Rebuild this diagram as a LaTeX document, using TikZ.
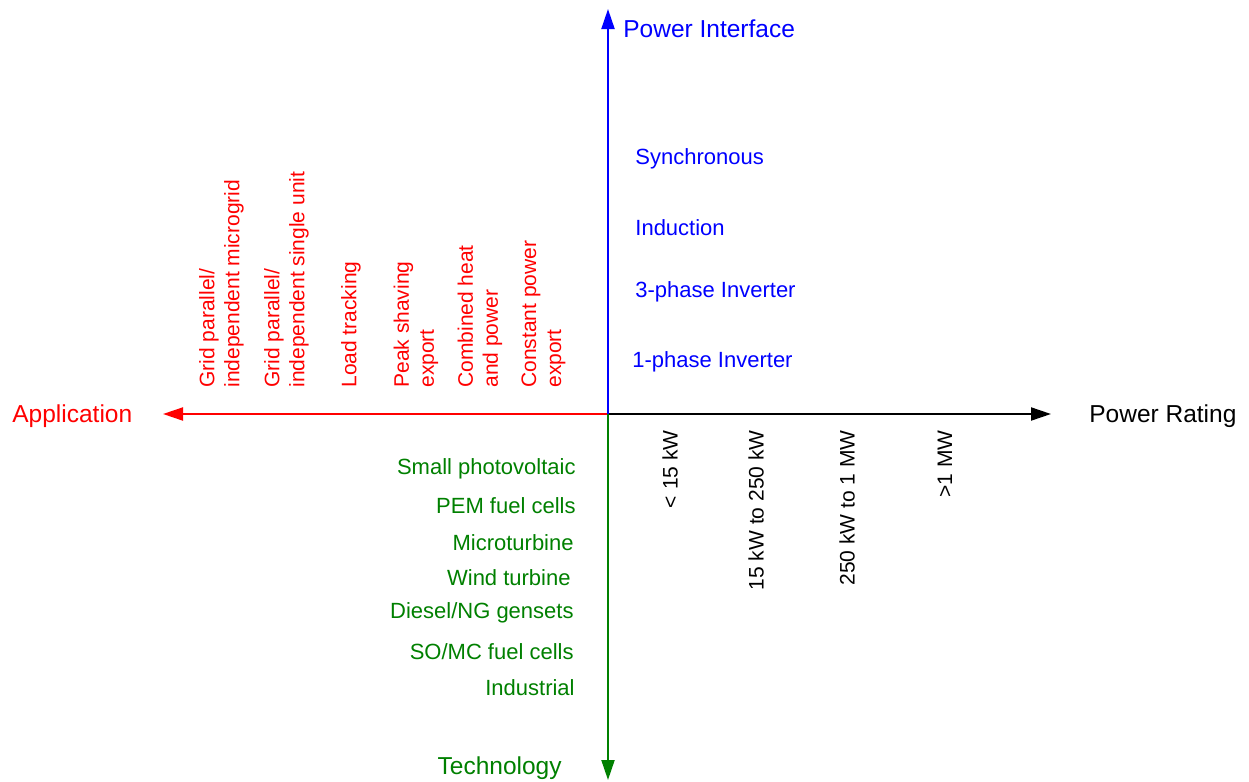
\documentclass[tikz,border=0pt]{standalone}
\usepackage{fontspec}
\setmainfont{Liberation Sans}
\usetikzlibrary{arrows.meta}
\definecolor{appred}{RGB}{255,0,0}
\definecolor{ifblue}{RGB}{0,0,255}
\definecolor{techgreen}{RGB}{0,128,0}
\begin{document}
\begin{tikzpicture}[
    x=0.5pt, y=-0.5pt,
    axis/.style={line width=1pt, -{Triangle[length=10pt, width=6.5pt]}},
    title/.style={inner sep=0pt, font=\fontsize{12.25}{14}\selectfont},
    item/.style={inner sep=0pt, font=\fontsize{11}{12.5}\selectfont},
    upitem/.style={inner sep=0pt, font=\fontsize{10.5}{12.5}\selectfont, rotate=90, align=left}
]
\useasboundingbox (0,0) rectangle (1249,782);

% Axes
\coordinate (o) at (608,414);
\coordinate (ifTip) at (608,9);
\coordinate (appTip) at (163,414);
\coordinate (ratTip) at (1051,414);
\coordinate (techTip) at (608,780);

\draw[axis, appred] (o) -- (appTip);
\draw[axis] (o) -- (ratTip);
\draw[axis, techgreen] (o) -- (techTip);
\draw[axis, ifblue] (o) -- (ifTip);

% Axis titles
\node[title, ifblue, anchor=west] (iface) at (623,29) {Power Interface};
\node[title, appred, anchor=west] (app) at (12,416) {Application};
\node[title, anchor=west] (rating) at (1089,416) {Power Rating};
\node[title, techgreen, anchor=east] (tech) at (562,768) {Technology};

% Power interface
\node[item, ifblue, anchor=west] (sync) at (635,159) {Synchronous};
\node[item, ifblue, anchor=west] (induc) at (635,228) {Induction};
\node[item, ifblue, anchor=west] (inv3) at (635,292) {3-phase Inverter};
\node[item, ifblue, anchor=west] (inv1) at (632,362) {1-phase Inverter};

% Application
\node[upitem, appred, anchor=west] (microgrid) at (221.5,388) {Grid parallel/\\independent microgrid};
\node[upitem, appred, anchor=west] (single) at (286.5,388) {Grid parallel/\\independent single unit};
\node[upitem, appred, anchor=west] (load) at (351,388) {Load tracking};
\node[upitem, appred, anchor=west] (peak) at (416,388) {Peak shaving\\export};
\node[upitem, appred, anchor=west] (chp) at (480,388) {Combined heat\\and power};
\node[upitem, appred, anchor=west] (const) at (543.5,388) {Constant power\\export};

% Power rating
\node[upitem, anchor=east] (r1) at (670,430) {< 15 kW};
\node[upitem, anchor=east] (r2) at (756,430) {15 kW to 250 kW};
\node[upitem, anchor=east] (r3) at (847,430) {250 kW to 1 MW};
\node[upitem, anchor=east] (r4) at (945,430) {>1 MW};

% Technology
\node[item, techgreen, anchor=east] (pv) at (576,469) {Small photovoltaic};
\node[item, techgreen, anchor=east] (pem) at (576,506) {PEM fuel cells};
\node[item, techgreen, anchor=east] (micro) at (574,543) {Microturbine};
\node[item, techgreen, anchor=east] (wind) at (571,578) {Wind turbine};
\node[item, techgreen, anchor=east] (diesel) at (574,613) {Diesel/NG gensets};
\node[item, techgreen, anchor=east] (somc) at (574,652) {SO/MC fuel cells};
\node[item, techgreen, anchor=east] (indus) at (575,688) {Industrial};

\end{tikzpicture}
\end{document}
